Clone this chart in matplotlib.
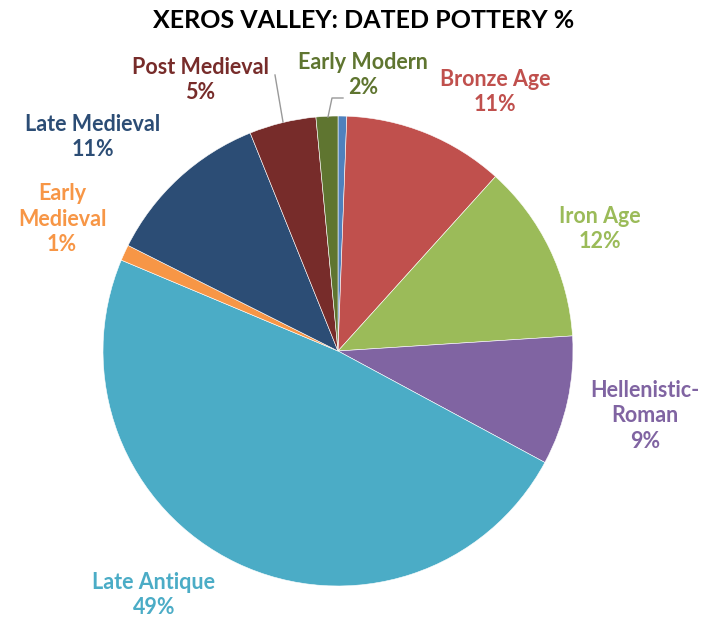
import matplotlib.pyplot as plt

# periods, clockwise from 12 o'clock (first sliver is unlabeled)
periods = ['Prehistoric', 'Bronze Age', 'Iron Age', 'Hellenistic-Roman', 'Late Antique',
           'Early Medieval', 'Late Medieval', 'Post Medieval', 'Early Modern']
shares = [0.6, 11.1, 12.3, 8.9, 48.5, 1.1, 11.5, 4.6, 1.5]
colors = ['#4F81BD', '#C0504D', '#9BBB59', '#8064A2', '#4BACC6',
          '#F79646', '#2C4D75', '#772C2A', '#5F7530']

# label text (as written on chart), label color, centre position in pixels
labels = ['Bronze Age\n11%', 'Iron Age\n12%', 'Hellenistic-\nRoman\n9%', 'Late Antique\n49%',
          'Early\nMedieval\n1%', 'Late Medieval\n11%', 'Post Medieval\n5%', 'Early Modern\n2%']
label_colors = ['#C0504D', '#9BBB59', '#8064A2', '#4BACC6', '#F79646', '#2C4D75', '#772C2A', '#5F7530']
label_pos = [(495, 92), (600, 229), (645, 416), (154, 595), (62, 219), (93, 137), (200, 80), (363, 75)]

plt.rcParams['font.family'] = ['Lato', 'DejaVu Sans']

H = 621
fig = plt.figure(figsize=(7.04, 6.21), dpi=100)
ax = fig.add_axes([0, 0, 1, 1])

ax.pie(shares, colors=colors, startangle=90, counterclock=False,
       center=(338, H - 351), radius=235, frame=True,
       wedgeprops=dict(linewidth=0.4, edgecolor='white'))
ax.set_xlim(0, 704)
ax.set_ylim(0, H)
ax.axis('off')

for txt, c, (x, y) in zip(labels, label_colors, label_pos):
    ax.text(x, H - y, txt, color=c, fontsize=15.5, fontweight='bold',
            ha='center', va='center', linespacing=1.27)

# leader lines
ax.plot([275, 283], [H - 75, H - 122], color='#999999', lw=1)
ax.plot([328, 332, 343], [H - 117, H - 98, H - 98], color='#999999', lw=1)

ax.text(364, H - 21, 'XEROS VALLEY: DATED POTTERY %', fontsize=18, fontweight='bold',
        ha='center', va='center', color='black')

fig.savefig('out.png', dpi=100)
